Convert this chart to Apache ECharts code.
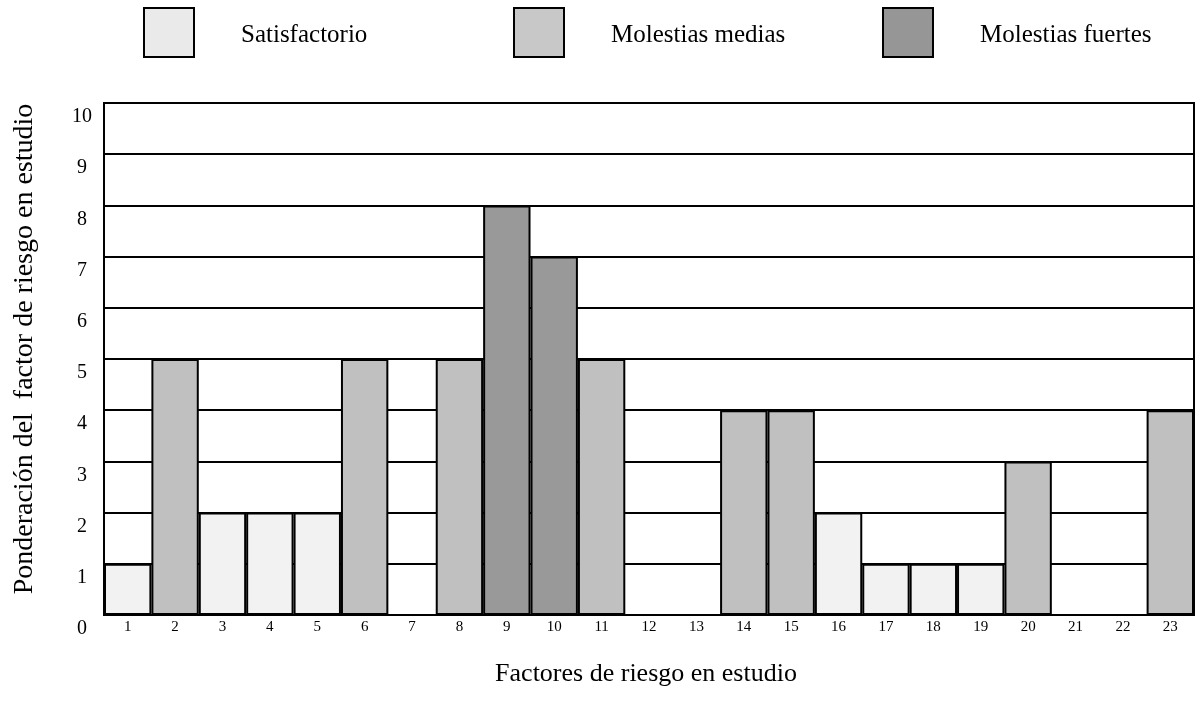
<!DOCTYPE html>
<html>
<head>
<meta charset="utf-8">
<script src="https://cdn.jsdelivr.net/npm/echarts@6/dist/echarts.min.js"></script>
<style>
  html, body { margin: 0; padding: 0; background: #fff; }
  #chart { width: 1196px; height: 706px; }
</style>
</head>
<body>
<div id="chart"></div>
<script>
const categories = ['1','2','3','4','5','6','7','8','9','10','11','12','13','14','15','16','17','18','19','20','21','22','23'];
const satisfactorio   = [1,'-',2,2,2,'-','-','-','-','-','-','-','-','-','-',2,1,1,1,'-','-','-','-'];
const molestiasMedias = ['-',5,'-','-','-',5,'-',5,'-','-',5,'-','-',4,4,'-','-','-','-',3,'-','-',4];
const molestiasFuertes= ['-','-','-','-','-','-','-','-',8,7,'-','-','-','-','-','-','-','-','-','-','-','-','-'];
const seriesNames = ['Satisfactorio', 'Molestias medias', 'Molestias fuertes'];
const yTicks = [0,1,2,3,4,5,6,7,8,9,10];

const FONT = 'Liberation Serif';
const barColors = ['#F2F2F2', '#C0C0C0', '#999999'];
const legendColors = ['#EAEAEA', '#C8C8C8', '#969696'];
const legendLefts = [143, 513, 882];

const chart = echarts.init(document.getElementById('chart'));

const seriesData = [satisfactorio, molestiasMedias, molestiasFuertes];

const option = {
  backgroundColor: '#fff',
  animation: false,
  textStyle: { fontFamily: FONT, color: '#000' },
  legend: seriesNames.map((n, i) => ({
    data: [{ name: n, icon: 'rect', itemStyle: { color: legendColors[i], borderColor: '#000', borderWidth: 2 } }],
    left: legendLefts[i],
    top: 7,
    padding: 0,
    itemWidth: 50,
    itemHeight: 49,
    selectedMode: false,
    formatter: '{t|{name}}',
    textStyle: {
      fontFamily: FONT, fontSize: 25, color: '#000', padding: [0, 0, 0, 42],
      rich: { t: { fontFamily: FONT, fontSize: 25, color: '#000', padding: [5, 0, 0, 0] } }
    }
  })),
  grid: {
    left: 104, right: 2, top: 103, bottom: 91,
    show: true, borderColor: '#000', borderWidth: 2, backgroundColor: 'transparent'
  },
  xAxis: {
    type: 'category',
    data: categories,
    name: 'Factores de riesgo en estudio',
    nameLocation: 'middle',
    nameGap: 46,
    nameTextStyle: { fontFamily: FONT, fontSize: 26, color: '#000', padding: [0, 6, 0, 0] },
    axisLine: { lineStyle: { color: '#000', width: 2 } },
    axisTick: { show: false },
    axisLabel: { fontFamily: FONT, fontSize: 15, color: '#000', margin: 5 },
    splitLine: { show: false }
  },
  yAxis: {
    type: 'value',
    min: 0, max: 10, interval: 1,
    name: 'Ponderación del  factor de riesgo en estudio',
    nameLocation: 'middle',
    nameGap: 65,
    nameTextStyle: { fontFamily: FONT, fontSize: 28, color: '#000', padding: [0, 0, 0, 20] },
    axisLine: { show: true, lineStyle: { color: '#000', width: 2 } },
    axisTick: { show: false },
    axisLabel: {
      fontFamily: FONT, fontSize: 20, color: '#000', margin: 22, align: 'center', verticalAlign: 'top', padding: [4, 0, 0, 0],
      formatter: v => (yTicks.indexOf(v) >= 0 ? String(v) : '')
    },
    splitLine: { show: true, lineStyle: { color: '#000', width: 2 } }
  },
  series: seriesNames.map((n, i) => ({
    name: n,
    type: 'bar',
    stack: 'all',
    data: seriesData[i],
    barWidth: '100%',
    barCategoryGap: 0,
    itemStyle: { color: barColors[i], borderColor: '#000', borderWidth: 2 }
  }))
};

chart.setOption(option);
</script>
</body>
</html>
